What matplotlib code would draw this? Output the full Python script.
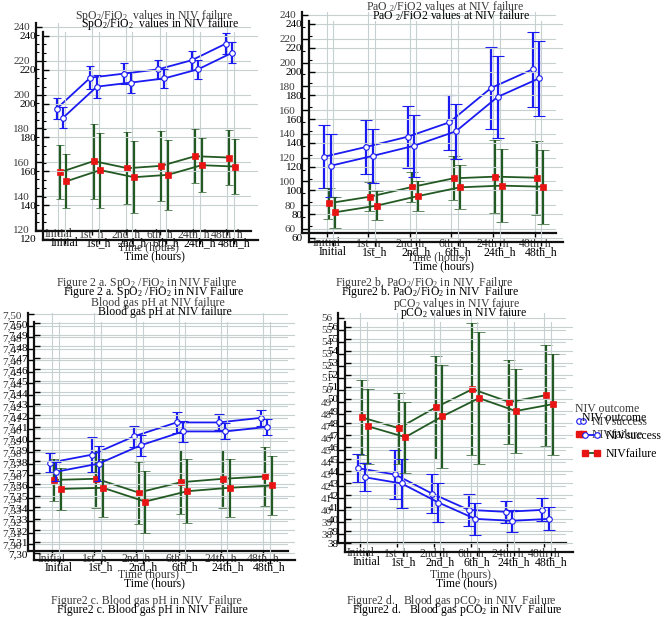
import numpy as np
import matplotlib
matplotlib.use("Agg")
import matplotlib.pyplot as plt
from matplotlib.ticker import MultipleLocator, FixedLocator, FuncFormatter
from matplotlib.lines import Line2D

plt.rcParams['font.family'] = ['Liberation Serif', 'DejaVu Serif']
plt.rcParams['mathtext.fontset'] = 'custom'
plt.rcParams['mathtext.rm'] = 'Liberation Serif'
plt.rcParams['mathtext.it'] = 'Liberation Serif:italic'
plt.rcParams['mathtext.bf'] = 'Liberation Serif:bold'

# ---- data (mean and error bar half-length per time point) ----
time_points = ["Initial", "1st_h", "2nd_h", "6th_h", "24th_h", "48th_h"]

spo2_success = [191.6, 210.0, 212.4, 214.9, 220.3, 230.0]
spo2_success_err = [6.1, 6.7, 6.1, 5.8, 5.6, 6.3]
spo2_failure = [154.1, 160.7, 156.5, 157.9, 163.6, 162.8]
spo2_failure_err = [16.0, 22.2, 21.4, 20.5, 16.0, 16.3]

pao2_success = [120.8, 129.0, 137.6, 149.7, 178.6, 194.3]
pao2_success_err = [26.5, 23.0, 26.2, 23.1, 34.5, 31.7]
pao2_failure = [81.6, 87.2, 95.3, 102.6, 104.0, 103.1]
pao2_failure_err = [13.1, 12.4, 12.5, 18.6, 30.9, 31.2]

ph_success = [7.371, 7.378, 7.394, 7.406, 7.406, 7.410]
ph_success_err = [0.008, 0.015, 0.009, 0.009, 0.007, 0.007]
ph_failure = [7.356, 7.357, 7.345, 7.354, 7.357, 7.359]
ph_failure_err = [0.018, 0.025, 0.027, 0.028, 0.025, 0.026]

pco2_success = [43.5, 42.98, 41.4, 40.04, 39.88, 40.04]
pco2_success_err = [1.15, 2.05, 1.65, 1.35, 0.9, 0.95]
pco2_failure = [47.72, 46.83, 48.55, 50.07, 49.0, 49.57]
pco2_failure_err = [3.1, 2.95, 4.3, 5.5, 3.5, 4.2]

spo2_ticks = [120, 140, 160, 180, 200, 220, 240]
pao2_ticks = [60, 80, 100, 120, 140, 160, 180, 200, 220, 240]
ph_ticks = [7.30, 7.31, 7.32, 7.33, 7.34, 7.35, 7.36, 7.37, 7.38, 7.39, 7.40,
            7.41, 7.42, 7.43, 7.44, 7.45, 7.46, 7.47, 7.48, 7.49, 7.50]
pco2_ticks = [38, 39, 40, 41, 42, 43, 44, 45, 46, 47, 48, 49, 50, 51, 52, 53, 54, 55, 56]

W, H = 669, 619
fig = plt.figure(figsize=(W / 100, H / 100), dpi=100)

GRID = '#c6d0d0'
BLUE = '#1a1af2'
GREEN = '#235a23'
RED = '#e81414'


def box(l, t, r, b):
    return [l / W, 1 - b / H, (r - l) / W, (b - t) / H]


def ftext(x, y, s, **kw):
    fig.text(x / W, 1 - y / H, s, ha='center', va='center', **kw)


def draw(ax, xlim, ylim, succ, succ_err, fail, fail_err, ticks, minor, fmt, xpad, cap, tc):
    x = np.arange(len(time_points))
    ax.patch.set_alpha(0)
    ax.set_xlim(xlim)
    ax.set_ylim(ylim)
    for s in ('top', 'right'):
        ax.spines[s].set_visible(False)
    for s in ('left', 'bottom'):
        ax.spines[s].set_linewidth(1.6)
        ax.spines[s].set_color('#111111')
    ax.set_xticks(x)
    ax.set_xticklabels(time_points)
    ax.yaxis.set_major_locator(FixedLocator(ticks))
    if minor:
        ax.yaxis.set_minor_locator(MultipleLocator(minor))
    ax.yaxis.set_major_formatter(FuncFormatter(fmt))
    ax.grid(True, color=GRID, lw=0.8)
    ax.set_axisbelow(True)
    ax.tick_params(axis='y', which='both', direction='in', pad=4.5, labelsize=8, labelcolor=tc)
    ax.tick_params(axis='y', which='major', length=4, width=1)
    ax.tick_params(axis='y', which='minor', length=2.5, width=0.8)
    ax.tick_params(axis='x', direction='out', length=3, width=1, pad=xpad, labelsize=8.5, labelcolor=tc)
    ax.errorbar(x - 0.05, succ, yerr=succ_err, color=BLUE, lw=1.3, elinewidth=1.6,
                capsize=cap, capthick=1.6, marker='o', ms=4, mfc='white', mec=BLUE, mew=0.8)
    ax.errorbar(x + 0.05, fail, yerr=fail_err, color=GREEN, lw=1.3, elinewidth=1.6,
                capsize=cap, capthick=1.6, marker='s', ms=4, mfc=RED, mec=RED, mew=0.5)


def num(v, pos):
    return "%d" % v


def comma(v, pos):
    return ("%.2f" % v).replace('.', ',')


# two slightly offset copies of the whole page, like the scanned original
for k, (dx, dy) in enumerate([(0, 0), (6.5, 9)]):
    tc = '#3a3a3a' if k == 0 else '#000000'

    ax = fig.add_axes(box(36 + dx, 23 + dy, 251 + dx, 231 + dy))
    draw(ax, (-0.657, 5.704), (119.4, 242.3), spo2_success, spo2_success_err,
         spo2_failure, spo2_failure_err, spo2_ticks, 5, num, -5, 3, tc)

    ax = fig.add_axes(box(302 + dx, 12 + dy, 556 + dx, 233 + dy))
    draw(ax, (-0.59, 5.51), (56.6, 242.5), pao2_success, pao2_success_err,
         pao2_failure, pao2_failure_err, pao2_ticks, 10, num, 0.2, 4.2, tc)

    ax = fig.add_axes(box(27.7 + dx, 313.3 + dy, 288 + dx, 551 + dy))
    draw(ax, (-0.578, 5.59), (7.2942, 7.5009), ph_success, ph_success_err,
         ph_failure, ph_failure_err, ph_ticks, None, comma, -1.9, 3.8, tc)

    ax = fig.add_axes(box(338.3 + dx, 313.3 + dy, 566 + dx, 543 + dy))
    draw(ax, (-0.593, 5.59), (37.29, 56.37), pco2_success, pco2_success_err,
         pco2_failure, pco2_failure_err, pco2_ticks, None, num, -0.1, 4.2, tc)

    # panel titles
    ftext(154 + dx, 15.5 + dy, r"SpO$_2$/FiO$_2$  values in NIV failure", fontsize=8.5, color=tc)
    ftext(445 + dx, 6.5 + dy, r"PaO $_2$/FiO2 values at NIV failure", fontsize=8.5, color=tc)
    ftext(158 + dx, 303 + dy, "Blood gas pH at NIV failure", fontsize=8.5, color=tc)
    ftext(457 + dx, 304 + dy, r"pCO$_2$ values in NIV faiure", fontsize=8.5, color=tc)

    # axis titles
    ftext(148 + dx, 247 + dy, "Time (hours)", fontsize=8.5, color=tc)
    ftext(437 + dx, 257 + dy, "Time (hours)", fontsize=8.5, color=tc)
    ftext(148 + dx, 574 + dy, "Time (hours)", fontsize=8.5, color=tc)
    ftext(460 + dx, 574 + dy, "Time (hours)", fontsize=8.5, color=tc)

    # figure captions
    cx = dx - 1
    ftext(148 + cx, 283 + dy, r"Figure 2 a. SpO$_2$ /FiO$_2$ in NIV Failure", fontsize=8.5, color=tc)
    ftext(425 + cx, 283 + dy, r"Figure2 b. PaO$_2$/FiO$_2$ in NIV  Failure", fontsize=8.5, color=tc)
    ftext(147 + cx, 601 + dy, "Figure2 c. Blood gas pH in NIV  Failure", fontsize=8.5, color=tc)
    ftext(452 + cx, 601 + dy, r"Figure2 d.   Blood gas pCO$_2$ in NIV  Failure", fontsize=8.5, color=tc)

    # legend
    handles = [Line2D([], [], color=BLUE, lw=1.3, marker='o', ms=4, mfc='white', mec=BLUE, mew=0.8),
               Line2D([], [], color=GREEN, lw=1.3, marker='s', ms=4, mfc=RED, mec=RED)]
    leg = fig.legend(handles, ["NIVsuccess", "NIVfailure"], title="NIV outcome",
                     loc='upper left', bbox_to_anchor=((575 + dx) / W, 1 - (403 + dy) / H),
                     frameon=False, fontsize=8.5, title_fontsize=8.5, numpoints=2,
                     handlelength=1.0 if k == 0 else 1.6, handletextpad=0.4,
                     labelspacing=0.1 if k == 0 else 0.5, borderpad=0, borderaxespad=0,
                     alignment='left')
    leg.get_title().set_color(tc)
    for t in leg.get_texts():
        t.set_color(tc)

fig.savefig("out.png", dpi=100)
